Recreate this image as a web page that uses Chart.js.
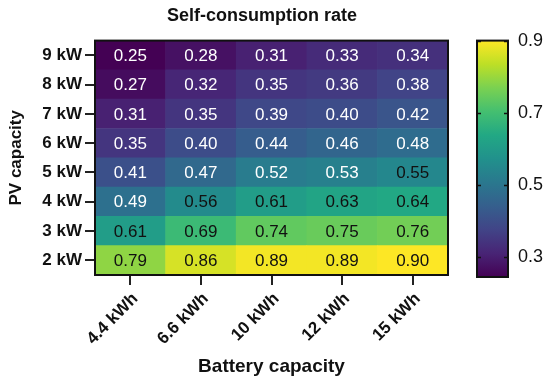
<!DOCTYPE html>
<html>
<head>
<meta charset="utf-8">
<script src="https://cdn.jsdelivr.net/npm/chart.js@4.4.1/dist/chart.umd.min.js"></script>
<style>
  body { margin: 0; background: #fff; }
</style>
</head>
<body>
<canvas id="heat" width="550" height="380"></canvas>
<script>
// categories
const batteries = ["4.4 kWh", "6.6 kWh", "10 kWh", "12 kWh", "15 kWh"];
const pvLabels = ["2 kW", "3 kW", "4 kW", "5 kW", "6 kW", "7 kW", "8 kW", "9 kW"]; // bottom -> top

// self-consumption rate per PV size (one value per battery)
const rate2kW = [0.79, 0.86, 0.89, 0.89, 0.90];
const rate3kW = [0.61, 0.69, 0.74, 0.75, 0.76];
const rate4kW = [0.49, 0.56, 0.61, 0.63, 0.64];
const rate5kW = [0.41, 0.47, 0.52, 0.53, 0.55];
const rate6kW = [0.35, 0.40, 0.44, 0.46, 0.48];
const rate7kW = [0.31, 0.35, 0.39, 0.40, 0.42];
const rate8kW = [0.27, 0.32, 0.35, 0.36, 0.38];
const rate9kW = [0.25, 0.28, 0.31, 0.33, 0.34];
const rates = [rate2kW, rate3kW, rate4kW, rate5kW, rate6kW, rate7kW, rate8kW, rate9kW];

// colour bar
const colorMin = 0.25;
const colorMax = 0.9;
const colorbarTicks = [0.3, 0.5, 0.7, 0.9];

const FONT = "'Liberation Sans', Arial, Helvetica, sans-serif";
const INK = "#111";

// viridis
const viridisStops = ["#440154", "#482475", "#414487", "#355f8d", "#2a788e",
  "#21918c", "#22a884", "#44bf70", "#7ad151", "#bddf26", "#fde725"];
function hexToRgb(h) {
  return [parseInt(h.slice(1, 3), 16), parseInt(h.slice(3, 5), 16), parseInt(h.slice(5, 7), 16)];
}
function viridis(t) {
  t = Math.min(1, Math.max(0, t));
  const n = viridisStops.length - 1;
  const i = Math.min(n - 1, Math.floor(t * n));
  const f = t * n - i;
  const a = hexToRgb(viridisStops[i]), b = hexToRgb(viridisStops[i + 1]);
  const c = a.map((v, k) => Math.round(v + (b[k] - v) * f));
  return `rgb(${c[0]},${c[1]},${c[2]})`;
}
const norm = v => (v - colorMin) / (colorMax - colorMin);

const datasets = rates.map((row, i) => ({
  label: pvLabels[i],
  data: row.map(() => [i, i + 1]),
  backgroundColor: row.map(v => viridis(norm(v))),
  borderWidth: 0,
  barPercentage: 1,
  categoryPercentage: 1,
  grouped: false
}));

const heatExtras = {
  id: "heatExtras",
  afterDatasetsDraw(chart) {
    const ctx = chart.ctx;
    ctx.save();
    // cell values
    ctx.font = `17px ${FONT}`;
    ctx.textAlign = "center";
    ctx.textBaseline = "middle";
    chart.data.datasets.forEach((ds, i) => {
      chart.getDatasetMeta(i).data.forEach((bar, j) => {
        const v = rates[i][j];
        ctx.fillStyle = v < 0.55 ? "#fff" : INK;
        ctx.fillText(v.toFixed(2), bar.x, (bar.y + bar.base) / 2 + 1);
      });
    });
    // frame
    const a = chart.chartArea;
    ctx.strokeStyle = INK;
    ctx.lineWidth = 2;
    ctx.strokeRect(a.left, a.top, a.right - a.left, a.bottom - a.top);

    // colour bar
    const cb = chart.scales.cb;
    const top = cb.getPixelForValue(colorMax);
    const bot = cb.getPixelForValue(colorMin) + 2;
    const x0 = cb.left + 29, w = 31;
    const g = ctx.createLinearGradient(0, bot, 0, top);
    viridisStops.forEach((c, k) => g.addColorStop(k / (viridisStops.length - 1), c));
    ctx.fillStyle = g;
    ctx.fillRect(x0, top, w, bot - top);
    ctx.strokeRect(x0, top, w, bot - top);
    ctx.lineWidth = 1.5;
    cb.ticks.forEach(t => {
      const y = Math.round(cb.getPixelForValue(t.value)) + 0.5;
      ctx.beginPath();
      ctx.moveTo(x0, y); ctx.lineTo(x0 + 4, y);
      ctx.moveTo(x0 + w, y); ctx.lineTo(x0 + w - 4, y);
      ctx.stroke();
    });
    ctx.restore();
  }
};

new Chart(document.getElementById("heat"), {
  type: "bar",
  data: { labels: batteries, datasets: datasets },
  plugins: [heatExtras],
  options: {
    responsive: false,
    animation: false,
    // negative left padding only moves the centred title a bit to the left
    layout: { padding: { left: -26, right: 0, top: 0, bottom: 0 } },
    plugins: {
      legend: { display: false },
      tooltip: { enabled: false },
      title: {
        display: true,
        text: "Self-consumption rate",
        color: INK,
        font: { family: FONT, size: 18, weight: "bold" },
        padding: { top: 5, bottom: 14 }
      }
    },
    scales: {
      x: {
        offset: true,
        grid: { display: true, drawOnChartArea: false, offset: false, tickLength: 10, color: "#222", lineWidth: 2 },
        border: { display: false },
        ticks: {
          color: INK,
          autoSkip: false,
          minRotation: 45,
          maxRotation: 45,
          padding: 4,
          labelOffset: 5,
          font: { family: FONT, size: 17, weight: "bold" }
        },
        title: {
          display: true,
          text: "Battery capacity",
          color: INK,
          font: { family: FONT, size: 19, weight: "bold" },
          padding: { top: 0, bottom: 2 }
        },
        afterFit: s => { s.height = 105; }
      },
      y: {
        min: 0,
        max: pvLabels.length,
        afterBuildTicks: s => { s.ticks = pvLabels.map((_, i) => ({ value: i + 0.5 })); },
        grid: { display: true, drawOnChartArea: false, tickLength: 10, color: "#222", lineWidth: 2 },
        border: { display: false },
        ticks: {
          color: INK,
          padding: 3,
          font: { family: FONT, size: 17, weight: "bold" },
          callback: v => pvLabels[Math.round(v - 0.5)]
        },
        title: {
          display: true,
          text: "PV capacity",
          color: INK,
          font: { family: FONT, size: 17, weight: "bold" },
          padding: { top: 32, bottom: 0 }
        },
        afterFit: s => { s.width = 121; }
      },
      cb: {
        type: "linear",
        position: "right",
        min: colorMin,
        max: colorMax,
        afterBuildTicks: s => { s.ticks = colorbarTicks.map(v => ({ value: v })); },
        // invisible long ticks push the labels to the right of the colour bar
        grid: { display: true, drawOnChartArea: false, drawTicks: true, tickLength: 67, color: "rgba(0,0,0,0)" },
        border: { display: false },
        ticks: {
          color: INK,
          padding: 3,
          font: { family: FONT, size: 18 },
          callback: v => v.toFixed(1)
        },
        afterFit: s => { s.width = 102; }
      }
    }
  }
});
</script>
</body>
</html>
